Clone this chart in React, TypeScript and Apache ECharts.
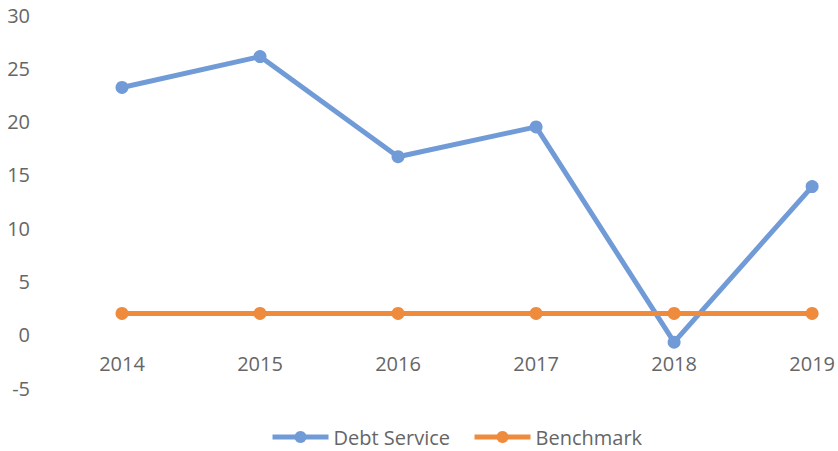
import React, { useEffect, useRef } from "react";
import * as echarts from "echarts";

const categories = ["2014", "2015", "2016", "2017", "2018", "2019"];
const debtService = [23.2, 26.1, 16.7, 19.5, -0.7, 13.9];
const benchmark = [2, 2, 2, 2, 2, 2];

const FONT = "'Open Sans', sans-serif";
const LABEL = "#666666";

export default function App() {
  const ref = useRef<HTMLDivElement>(null);
  useEffect(() => {
    if (!ref.current) return;
    const chart = echarts.init(ref.current, undefined, { renderer: "svg" });
    chart.setOption({
      animation: false,
      backgroundColor: "#ffffff",
      textStyle: { fontFamily: FONT },
      grid: { left: 122, right: 24, top: 15, bottom: 63 },
      legend: {
        left: 270,
        top: 427,
        padding: 0,
        itemWidth: 56,
        itemHeight: 15,
        itemGap: 22,
        lineStyle: { width: 5 },
        textStyle: { fontSize: 20, color: LABEL, fontFamily: FONT },
        data: ["Debt Service", "Benchmark"],
      },
      xAxis: {
        type: "category",
        data: categories,
        boundaryGap: false,
        axisLine: { show: false, onZero: false },
        axisTick: { show: false },
        axisLabel: { fontSize: 20, color: LABEL, margin: -35, fontFamily: FONT },
      },
      yAxis: {
        type: "value",
        min: -5,
        max: 30,
        interval: 5,
        axisLine: { show: false },
        axisTick: { show: false },
        splitLine: { show: false },
        axisLabel: { fontSize: 20, color: LABEL, margin: 92, fontFamily: FONT },
      },
      series: [
        {
          name: "Debt Service",
          type: "line",
          data: debtService,
          symbol: "circle",
          symbolSize: 13,
          lineStyle: { width: 5, color: "#719bd7" },
          itemStyle: { color: "#719bd7" },
        },
        {
          name: "Benchmark",
          type: "line",
          data: benchmark,
          symbol: "circle",
          symbolSize: 13,
          lineStyle: { width: 5, color: "#ef8b3c" },
          itemStyle: { color: "#ef8b3c" },
        },
      ],
    });
    return () => chart.dispose();
  }, []);
  return (
    <div style={{ position: "absolute", left: 0, top: 0 }}>
      <div ref={ref} style={{ width: 838, height: 451 }} />
    </div>
  );
}
